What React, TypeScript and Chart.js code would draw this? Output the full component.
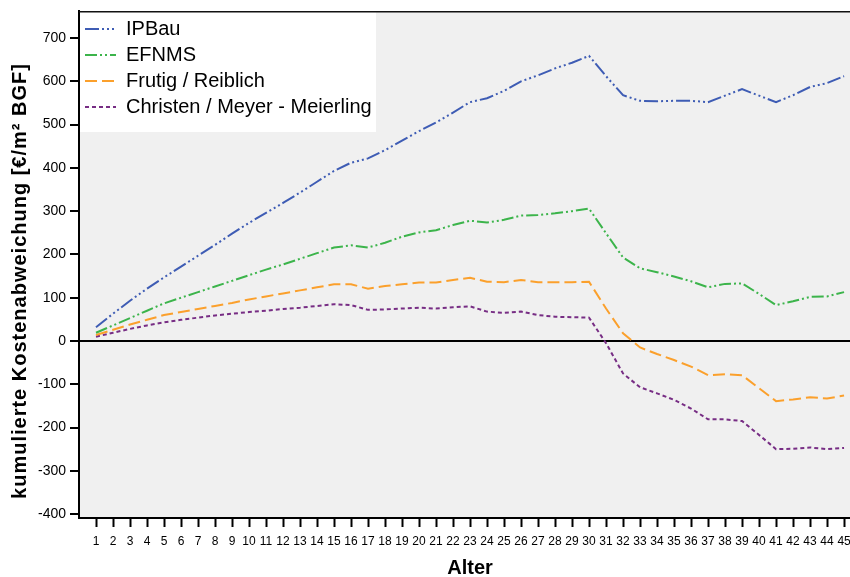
import React, { useEffect, useRef } from 'react';
import { Chart, registerables } from 'chart.js';

Chart.register(...registerables);

const FONT = '"Liberation Sans", Arial, Helvetica, sans-serif';

const ages = [1, 2, 3, 4, 5, 6, 7, 8, 9, 10, 11, 12, 13, 14, 15, 16, 17, 18, 19, 20, 21, 22, 23, 24, 25, 26, 27, 28, 29, 30, 31, 32, 33, 34, 35, 36, 37, 38, 39, 40, 41, 42, 43, 44, 45];

const ipbau = [32, 63, 93, 121, 147, 172, 197, 222, 248, 273, 296, 319, 343, 368, 393, 412, 422, 441, 463, 485, 505, 528, 552, 561, 578, 600, 614, 630, 643, 659, 612, 568, 555, 554, 555, 555, 552, 567, 582, 567, 552, 568, 587, 596, 612];
const efnms = [19, 36, 53, 70, 87, 100, 113, 126, 139, 152, 165, 177, 190, 203, 216, 221, 216, 227, 241, 251, 256, 268, 278, 274, 280, 290, 291, 295, 300, 306, 249, 193, 168, 159, 149, 138, 124, 132, 133, 109, 83, 92, 102, 103, 113];
const frutig = [14, 26, 38, 49, 60, 67, 74, 81, 88, 96, 103, 110, 117, 124, 131, 131, 121, 127, 131, 135, 135, 141, 146, 137, 136, 141, 136, 136, 136, 137, 75, 18, -15, -30, -44, -59, -79, -77, -79, -109, -139, -135, -130, -133, -126];
const christen = [10, 19, 28, 36, 43, 49, 54, 59, 63, 67, 70, 74, 77, 81, 85, 83, 72, 73, 75, 77, 75, 78, 80, 68, 65, 68, 60, 56, 55, 54, -5, -75, -107, -121, -136, -156, -181, -181, -185, -217, -250, -249, -246, -250, -247];

const seriesNames = ['IPBau', 'EFNMS', 'Frutig / Reiblich', 'Christen / Meyer - Meierling'];
const yTickValues = [-400, -300, -200, -100, 0, 100, 200, 300, 400, 500, 600, 700];

const yTitle = 'kumulierte Kostenabweichung [€/m² BGF]';
const xTitle = 'Alter';

const toPoints = (vals: number[]) => vals.map((v, i) => ({ x: ages[i], y: v }));

export default function App() {
  const ref = useRef<HTMLCanvasElement | null>(null);

  useEffect(() => {
    if (!ref.current) return;

    const framePlugin = {
      id: 'framePlugin',
      beforeDraw(chart: any) {
        const { ctx, chartArea } = chart;
        ctx.save();
        ctx.fillStyle = '#f0f0f0';
        ctx.fillRect(chartArea.left, chartArea.top, chartArea.right - chartArea.left, chartArea.bottom - chartArea.top);
        ctx.fillStyle = '#ffffff';
        ctx.fillRect(chartArea.left + 1, chartArea.top + 1, 296, 120);
        ctx.restore();
      },
      afterDraw(chart: any) {
        const { ctx, chartArea } = chart;
        ctx.save();
        ctx.strokeStyle = '#111';
        ctx.lineWidth = 1.5;
        ctx.beginPath();
        ctx.moveTo(chartArea.left, chartArea.top + 0.75);
        ctx.lineTo(chartArea.right, chartArea.top + 0.75);
        ctx.stroke();

        ctx.fillStyle = '#000';
        ctx.font = `bold 20px ${FONT}`;
        ctx.textAlign = 'center';
        ctx.textBaseline = 'alphabetic';
        ctx.fillText(xTitle, 470, 574);

        ctx.translate(26, 281);
        ctx.rotate(-Math.PI / 2);
        (ctx as any).letterSpacing = '1px';
        ctx.fillText(yTitle, 0, 0);
        ctx.restore();
      },
    };

    const chart = new Chart(ref.current, {
      type: 'line',
      data: {
        datasets: [
          { label: seriesNames[0], data: toPoints(ipbau), borderColor: '#3e5cb4', backgroundColor: '#3e5cb4', borderDash: [14, 3, 2, 3, 2, 3, 2, 3] },
          { label: seriesNames[1], data: toPoints(efnms), borderColor: '#3cb44b', backgroundColor: '#3cb44b', borderDash: [12, 3, 2, 3, 2, 3] },
          { label: seriesNames[2], data: toPoints(frutig), borderColor: '#fba02c', backgroundColor: '#fba02c', borderDash: [12, 5] },
          { label: seriesNames[3], data: toPoints(christen), borderColor: '#772d84', backgroundColor: '#772d84', borderDash: [4, 3] },
        ].map((d) => ({ ...d, borderWidth: 2, pointRadius: 0, tension: 0, fill: false })),
      },
      options: {
        animation: false,
        responsive: false,
        devicePixelRatio: 1,
        layout: { padding: { top: 11, right: 0, left: 0, bottom: 0 } },
        plugins: {
          tooltip: { enabled: false },
          legend: {
            position: 'chartArea',
            align: 'start',
            title: {
              display: true,
              text: '',
              font: { size: 1, lineHeight: 1 },
              padding: { top: 12, bottom: 0 },
            },
            labels: {
              usePointStyle: true,
              pointStyle: 'line',
              pointStyleWidth: 31,
              padding: 6,
              color: '#000',
              font: { size: 20, family: FONT },
              generateLabels: (c: any) =>
                (Chart.defaults.plugins.legend.labels.generateLabels as any)(c).map((item: any) => {
                  const ds = c.data.datasets[item.datasetIndex];
                  return {
                    ...item,
                    pointStyle: 'line',
                    strokeStyle: ds.borderColor,
                    fillStyle: ds.borderColor,
                    lineWidth: 2,
                    lineDash: ds.borderDash,
                    lineDashOffset: 0,
                  };
                }),
            },
          },
        },
        scales: {
          x: {
            type: 'linear',
            min: 0,
            max: 45.35,
            afterBuildTicks: (scale: any) => {
              scale.ticks = ages.map((v) => ({ value: v }));
            },
            afterFit: (scale: any) => {
              scale.height = 59;
              scale.paddingLeft = 0;
              scale.paddingRight = 0;
            },
            grid: {
              drawOnChartArea: false,
              drawTicks: true,
              tickLength: 9,
              tickColor: '#000',
              tickWidth: 2,
              color: '#000',
            },
            border: { display: true, color: '#000', width: 2 },
            ticks: {
              autoSkip: false,
              maxRotation: 0,
              padding: 7,
              color: '#000',
              font: { size: 12, family: FONT },
              callback: (v: any) => String(v),
            },
          },
          y: {
            type: 'linear',
            min: -409,
            max: 762.6,
            afterBuildTicks: (scale: any) => {
              scale.ticks = yTickValues.map((v) => ({ value: v }));
            },
            afterFit: (scale: any) => {
              scale.width = 79;
              scale.paddingTop = 0;
              scale.paddingBottom = 0;
            },
            grid: {
              drawOnChartArea: true,
              drawTicks: true,
              tickLength: 9,
              tickColor: '#000',
              tickWidth: 2,
              lineWidth: 2,
              color: (ctx: any) => (ctx.tick && ctx.tick.value === 0 ? '#000' : 'rgba(0,0,0,0)'),
            },
            border: { display: true, color: '#000', width: 2 },
            ticks: {
              padding: 4,
              color: '#000',
              font: { size: 14, family: FONT },
              callback: (v: any) => String(v),
            },
          },
        },
      },
      plugins: [framePlugin],
    } as any);

    return () => chart.destroy();
  }, []);

  return (
    <div style={{ position: 'absolute', left: 0, top: 0, width: 850, height: 577 }}>
      <canvas ref={ref} width={850} height={577} />
    </div>
  );
}
